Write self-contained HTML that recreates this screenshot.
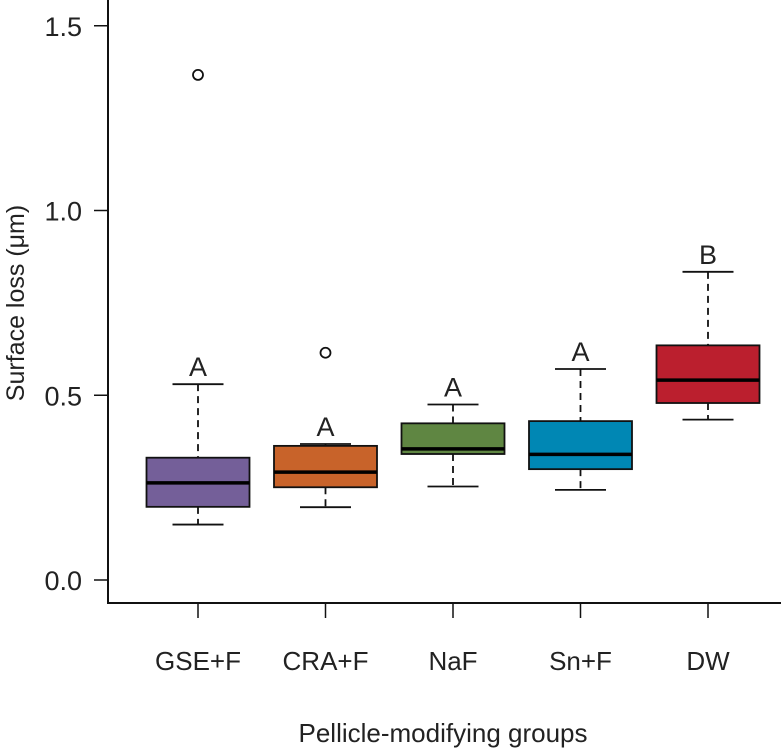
<!DOCTYPE html>
<html><head><meta charset="utf-8"><style>
body{margin:0;background:#fff;}
svg{display:block;font-family:"Liberation Sans",sans-serif;}
</style></head><body>
<svg id="chart" width="781" height="748" viewBox="0 0 781 748"></svg>
<script>
const categories=["GSE+F","CRA+F","NaF","Sn+F","DW"];
const whiskerLow=[0.150,0.197,0.253,0.244,0.434];
const q1=[0.198,0.251,0.341,0.300,0.479];
const median=[0.263,0.292,0.355,0.340,0.541];
const q3=[0.331,0.363,0.424,0.430,0.635];
const whiskerHigh=[0.530,0.368,0.475,0.571,0.834];
const outliers=[[1.367],[0.615],[],[],[]];
const letters=["A","A","A","A","B"];
const colors=["#745f99","#c8632a","#5f8642","#0087b4","#bb1f2e"];
const yTicks=[0.0,0.5,1.0,1.5];
const yTickLabels=["0.0","0.5","1.0","1.5"];

const NS="http://www.w3.org/2000/svg";
const svg=document.getElementById("chart");
function y(v){return 580-369.5*v;}
function x(i){return 198+127.5*i;}
function el(t,a,p){const e=document.createElementNS(NS,t);for(const k in a)e.setAttribute(k,a[k]);(p||svg).appendChild(e);return e;}

let ax=el("path",{d:"M108,0 V603 H781",fill:"none",stroke:"#111","stroke-width":2});


yTicks.forEach((v,i)=>{
  let t=el("line",{x1:94,x2:108,y1:y(v),y2:y(v),stroke:"#111","stroke-width":1.5});
  
  
  let l=el("text",{x:82,y:y(v)+10,"text-anchor":"end","font-size":27,fill:"#222"});
  l.textContent=yTickLabels[i];
  
  
});
categories.forEach((c,i)=>{
  const cx=x(i),hw=51.5,cw=25.5;
  let t=el("line",{x1:cx,x2:cx,y1:603,y2:618,stroke:"#111","stroke-width":1.5});
  
  
  let l=el("text",{x:cx,y:670,"text-anchor":"middle","font-size":26,fill:"#222"});
  l.textContent=c;
  
  
  const g=el("g",{});
  
  
  el("line",{x1:cx,x2:cx,y1:y(whiskerHigh[i]),y2:y(q3[i]),stroke:"#111","stroke-width":1.8,"stroke-dasharray":"7,5"},g);
  el("line",{x1:cx,x2:cx,y1:y(q1[i]),y2:y(whiskerLow[i]),stroke:"#111","stroke-width":1.8,"stroke-dasharray":"7,5"},g);
  el("line",{x1:cx-cw,x2:cx+cw,y1:y(whiskerHigh[i]),y2:y(whiskerHigh[i]),stroke:"#111","stroke-width":1.8},g);
  el("line",{x1:cx-cw,x2:cx+cw,y1:y(whiskerLow[i]),y2:y(whiskerLow[i]),stroke:"#111","stroke-width":1.8},g);
  el("rect",{x:cx-hw,y:y(q3[i]),width:2*hw,height:y(q1[i])-y(q3[i]),fill:colors[i],stroke:"#111","stroke-width":1.8},g);
  el("line",{x1:cx-hw,x2:cx+hw,y1:y(median[i]),y2:y(median[i]),stroke:"#000","stroke-width":3.5},g);
  outliers[i].forEach(o=>{
    let p=el("circle",{cx:cx,cy:y(o),r:5,fill:"none",stroke:"#111","stroke-width":1.8});
    
    
  });
  const top=Math.max(whiskerHigh[i],q3[i]);
  let L=el("text",{x:cx,y:y(top)-8,"text-anchor":"middle","font-size":27,fill:"#222"});
  L.textContent=letters[i];
  
  
});
let yt=el("text",{x:0,y:0,transform:"translate(24,303) rotate(-90)","text-anchor":"middle","font-size":25,fill:"#222"});
yt.textContent="Surface loss (μm)";


let xt=el("text",{x:443,y:742,"text-anchor":"middle","font-size":26,fill:"#222"});
xt.textContent="Pellicle-modifying groups";


</script>
</body></html>
